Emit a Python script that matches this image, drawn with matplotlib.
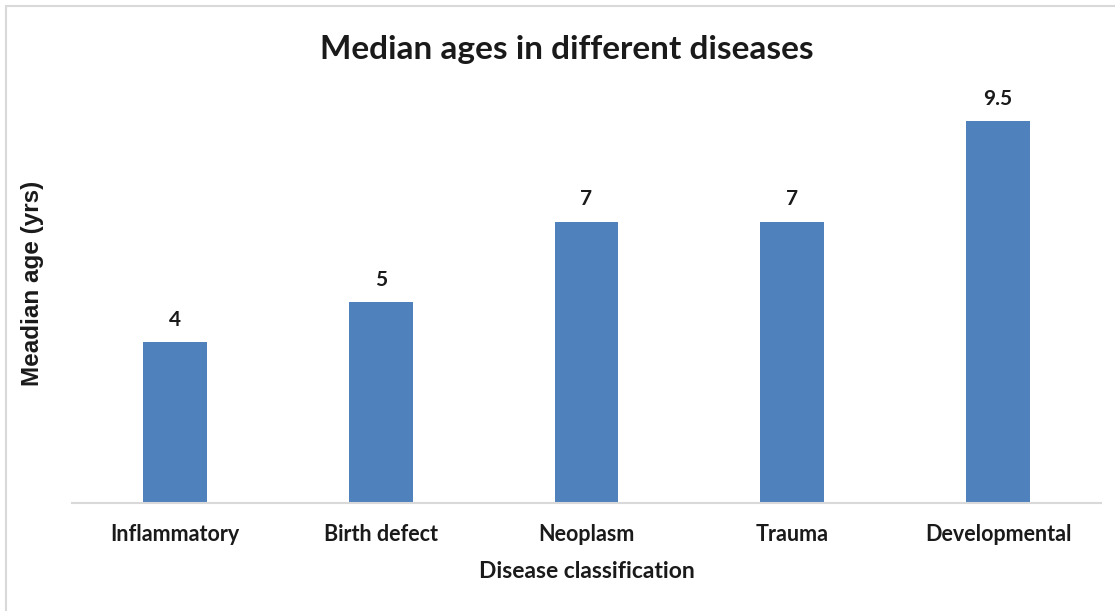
import matplotlib
matplotlib.use("Agg")
import matplotlib.pyplot as plt
from matplotlib.patches import Rectangle

categories = ["Inflammatory", "Birth defect", "Neoplasm", "Trauma", "Developmental"]
median_age = [4, 5, 7, 7, 9.5]
value_labels = ["4", "5", "7", "7", "9.5"]

bar_color = "#4F81BD"
text_color = "#1a1a1a"
label_font = "Lato"

fig = plt.figure(figsize=(11.15, 6.11), dpi=100)
ax = fig.add_axes([72 / 1115, 1 - 503 / 611, (1101 - 72) / 1115, (503 - 101) / 611])

x = range(len(categories))
bars = ax.bar(x, median_age, width=0.31, color=bar_color, zorder=2)

for rect, lab in zip(bars, value_labels):
    ax.annotate(lab, (rect.get_x() + rect.get_width() / 2, rect.get_height()),
                xytext=(0, 9), textcoords="offset points", ha="center", va="bottom",
                fontsize=15, fontweight="bold", family=label_font, color=text_color)

ax.set_xlim(-0.5, len(categories) - 0.5)
ax.set_ylim(0, 10)
ax.set_yticks([])
ax.set_xticks(list(x))
ax.set_xticklabels(categories, fontsize=15.5, fontweight="bold", family=label_font, color=text_color)
ax.tick_params(axis="x", length=0, pad=15)
for side in ["top", "right", "left"]:
    ax.spines[side].set_visible(False)
ax.spines["bottom"].set_color("#d9d9d9")
ax.spines["bottom"].set_linewidth(1.5)

ax.set_xlabel("Disease classification", fontsize=16.5, fontweight="bold", family=label_font,
              color=text_color, labelpad=12)
fig.text(33 / 1115, 1 - 283 / 611, "Meadian age (yrs)", rotation=90, ha="center", va="center",
         fontsize=17.5, fontweight="bold", family="Liberation Sans", color=text_color)

fig.text(567 / 1115, 1 - 50 / 611, "Median ages in different diseases", ha="center", va="center",
         fontsize=24, fontweight="bold", family=label_font, color=text_color)

# light frame along the top and left edges
fig.patches.append(Rectangle((6 / 1115, -0.1), 1.2, 1 - 6 / 611 + 0.1, transform=fig.transFigure,
                             fill=False, edgecolor="#d9d9d9", linewidth=1.5))

fig.savefig("out.png", dpi=100)
